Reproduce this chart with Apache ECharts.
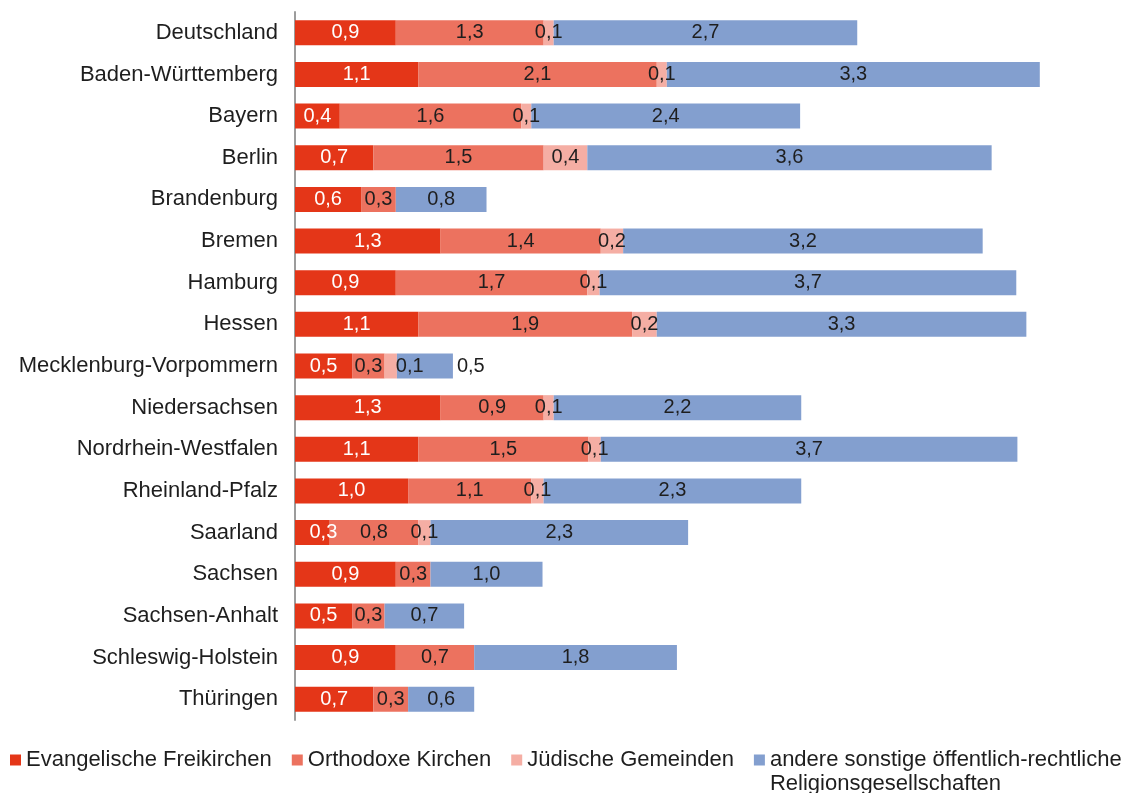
<!DOCTYPE html>
<html lang="de" style="height: 100%">
<head>
  <meta charset="UTF-8">
  <title>Religionsgemeinschaften nach Ländern</title>
  <script src="https://cdn.jsdelivr.net/npm/echarts@6/dist/echarts.min.js"></script>
</head>
<body style="height: 100%; margin: 0; background: #fff;">
  <div id="main" style="width: 1130px; height: 793px;"></div>

  <script>
  // Länder (von oben nach unten)
  const laender = ['Deutschland', 'Baden-Württemberg', 'Bayern', 'Berlin', 'Brandenburg', 'Bremen',
    'Hamburg', 'Hessen', 'Mecklenburg-Vorpommern', 'Niedersachsen', 'Nordrhein-Westfalen',
    'Rheinland-Pfalz', 'Saarland', 'Sachsen', 'Sachsen-Anhalt', 'Schleswig-Holstein', 'Thüringen'];

  // Werte in Prozent
  const evFreikirchen = [0.90, 1.10, 0.40, 0.70, 0.59, 1.30, 0.90, 1.10, 0.51, 1.30, 1.10, 1.01, 0.31, 0.90, 0.51, 0.90, 0.70];
  const orthodox = [1.32, 2.13, 1.62, 1.52, 0.31, 1.43, 1.71, 1.91, 0.29, 0.92, 1.52, 1.10, 0.79, 0.31, 0.29, 0.70, 0.31];
  const juedisch = [0.09, 0.09, 0.09, 0.39, null, 0.20, 0.11, 0.22, 0.11, 0.09, 0.11, 0.11, 0.11, null, null, null, null];
  const andere = [2.71, 3.33, 2.40, 3.61, 0.81, 3.21, 3.72, 3.30, 0.50, 2.21, 3.72, 2.30, 2.30, 1.00, 0.71, 1.81, 0.59];

  const serienNamen = ['Evangelische Freikirchen', 'Orthodoxe Kirchen', 'Jüdische Gemeinden',
    'andere sonstige öffentlich-rechtliche Religionsgesellschaften'];
  const farben = ['#E43618', '#EC725F', '#F5AEA4', '#839FCF'];

  const font = '"Liberation Sans", Arial, sans-serif';
  const fmt = p => p.value == null ? '' : p.value.toFixed(1).replace('.', ',');

  const chart = echarts.init(document.getElementById('main'));

  function serie(i, werte, labelColor) {
    return {
      name: serienNamen[i],
      type: 'bar',
      stack: 'gesamt',
      barWidth: 25,
      itemStyle: { color: farben[i] },
      label: {
        show: true,
        position: 'inside',
        formatter: fmt,
        color: labelColor,
        fontFamily: font,
        fontSize: 20
      },
      emphasis: { disabled: true },
      data: werte
    };
  }

  // ein paar Beschriftungen sind im Original verschoben
  const evData = evFreikirchen.map((v, i) => i === 12 ? { value: v, label: { offset: [11, 0] } } : v);
  const juedData = juedisch.map((v, i) => i === 8 ? { value: v, label: { offset: [19, 0] } } : v);
  const andereData = andere.map((v, i) => i === 8 ? { value: v, label: { position: 'right', distance: 4 } } : v);

  chart.setOption({
    animation: false,
    grid: { left: 295, top: 12, bottom: 73, right: 51, outerBoundsMode: 'none' },
    xAxis: {
      type: 'value',
      min: 0,
      max: 7,
      show: false
    },
    yAxis: {
      type: 'category',
      inverse: true,
      data: laender,
      axisLine: { show: true, lineStyle: { color: '#9c9c9c', width: 2 } },
      axisTick: { show: false },
      axisLabel: { color: '#1e1e1e', fontFamily: font, fontSize: 22, margin: 17 }
    },
    legend: {
      left: 10,
      top: 724,
      padding: 0,
      itemWidth: 11,
      itemHeight: 11,
      itemGap: 20,
      icon: 'rect',
      selectedMode: false,
      textStyle: { color: '#1e1e1e', fontFamily: font, fontSize: 22, lineHeight: 24 },
      formatter: function (name) {
        if (name === serienNamen[3]) {
          return '\nandere sonstige öffentlich-rechtliche\nReligionsgesellschaften';
        }
        return name;
      },
      data: serienNamen
    },
    series: [
      serie(0, evData, '#ffffff'),
      serie(1, orthodox, '#1e1e1e'),
      serie(2, juedData, '#1e1e1e'),
      serie(3, andereData, '#1e1e1e')
    ]
  });

  window.addEventListener('resize', function () {
    chart.resize();
  });
  </script>
</body>
</html>
